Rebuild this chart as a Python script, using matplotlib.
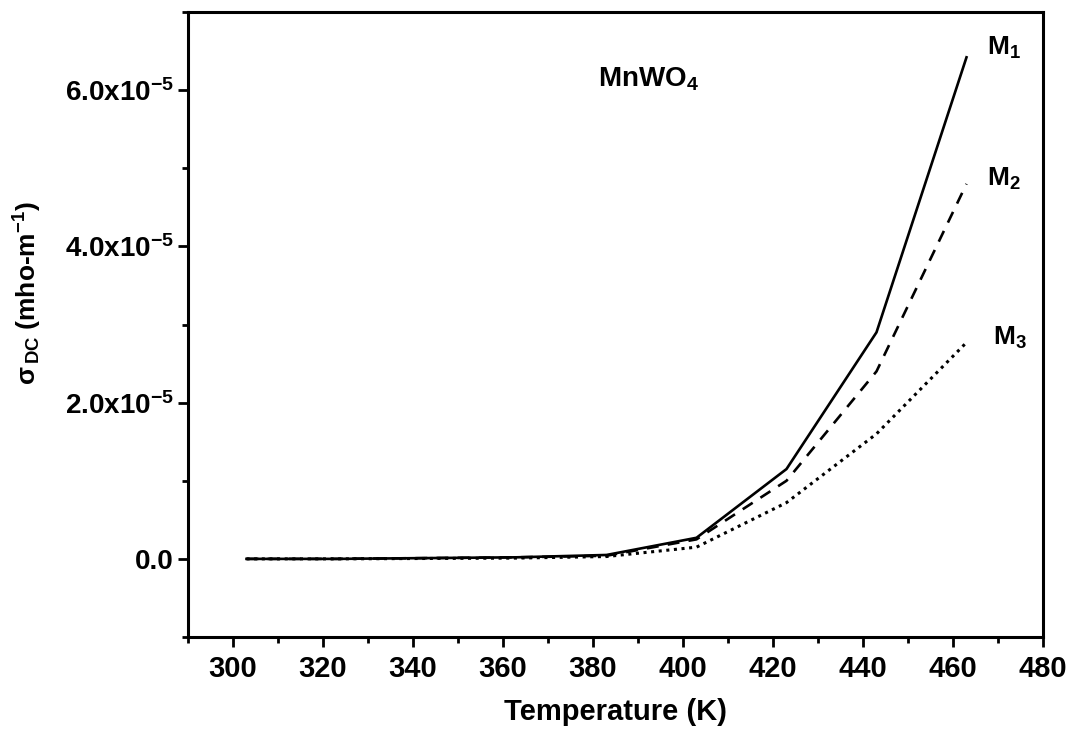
import matplotlib
matplotlib.use("Agg")
import matplotlib.pyplot as plt
from matplotlib.ticker import MultipleLocator, FixedLocator, FixedFormatter

# Temperature (K) and DC conductivity (units of 1e-5 mho/m) of MnWO4 samples
temperature = [303, 323, 343, 363, 383, 403, 423, 443, 463]
sigma_m1 = [0.0, 0.0, 0.01, 0.02, 0.05, 0.27, 1.15, 2.90, 6.42]
sigma_m2 = [0.0, 0.0, 0.01, 0.02, 0.04, 0.25, 1.00, 2.40, 4.80]
sigma_m3 = [0.0, 0.0, 0.005, 0.01, 0.03, 0.15, 0.72, 1.60, 2.77]
scale = 1e-5

x_ticks = [300, 320, 340, 360, 380, 400, 420, 440, 460, 480]
y_ticks = [0.0, 2e-5, 4e-5, 6e-5]
y_tick_labels = ["0.0", r"2.0x10$^{-5}$", r"4.0x10$^{-5}$", r"6.0x10$^{-5}$"]

plt.rcParams["font.family"] = ["Liberation Sans", "DejaVu Sans"]
plt.rcParams["font.weight"] = "bold"
plt.rcParams["mathtext.fontset"] = "custom"
plt.rcParams["mathtext.rm"] = "Liberation Sans:bold"
plt.rcParams["mathtext.bf"] = "Liberation Sans:bold"
plt.rcParams["mathtext.it"] = "Liberation Sans:bold"
plt.rcParams["mathtext.default"] = "rm"

fig = plt.figure(figsize=(10.69, 7.33), dpi=100)
ax = fig.add_axes([188 / 1069, 1 - 637 / 733, (1043 - 188) / 1069, (637 - 12) / 733])

ax.plot(temperature, [v * scale for v in sigma_m1], color="black", lw=1.9, ls="-")
ax.plot(temperature, [v * scale for v in sigma_m2], color="black", lw=1.9, ls=(0, (4.5, 3.5)))
ax.plot(temperature, [v * scale for v in sigma_m3], color="black", lw=2.2, ls=(0, (1, 1.5)))

ax.set_xlim(290, 480)
ax.set_ylim(-1e-5, 7e-5)

ax.xaxis.set_major_locator(FixedLocator(x_ticks))
ax.xaxis.set_minor_locator(MultipleLocator(10))
ax.yaxis.set_major_locator(FixedLocator(y_ticks))
ax.yaxis.set_major_formatter(FixedFormatter(y_tick_labels))
ax.yaxis.set_minor_locator(MultipleLocator(1e-5))

for side in ["left", "bottom", "right", "top"]:
    ax.spines[side].set_linewidth(2.2)

ax.tick_params(which="major", direction="out", length=7, width=2.0, pad=6)
ax.tick_params(which="minor", direction="out", length=4.5, width=2.0)
ax.tick_params(axis="x", labelsize=21)
ax.tick_params(axis="y", labelsize=20, pad=3)
for lbl in ax.get_xticklabels() + ax.get_yticklabels():
    lbl.set_fontweight("bold")

ax.set_xlabel("Temperature (K)", fontsize=21, fontweight="bold")
ax.xaxis.set_label_coords(0.5, -0.098)
ax.set_ylabel(r"$\sigma_{\,DC}$ (mho-m$^{-1}$)", fontsize=19, fontweight="bold")
ax.yaxis.set_label_coords(-0.168, 0.55)

ax.text(381.0, 6.14e-5, r"MnWO$_{4}$", fontsize=20, fontweight="bold", va="center", ha="left")
ax.text(467.5, 6.54e-5, r"M$_{1}$", fontsize=19, fontweight="bold", va="center", ha="left")
ax.text(467.5, 4.86e-5, r"M$_{2}$", fontsize=19, fontweight="bold", va="center", ha="left")
ax.text(468.8, 2.83e-5, r"M$_{3}$", fontsize=19, fontweight="bold", va="center", ha="left")

fig.savefig("out.png", dpi=100)
